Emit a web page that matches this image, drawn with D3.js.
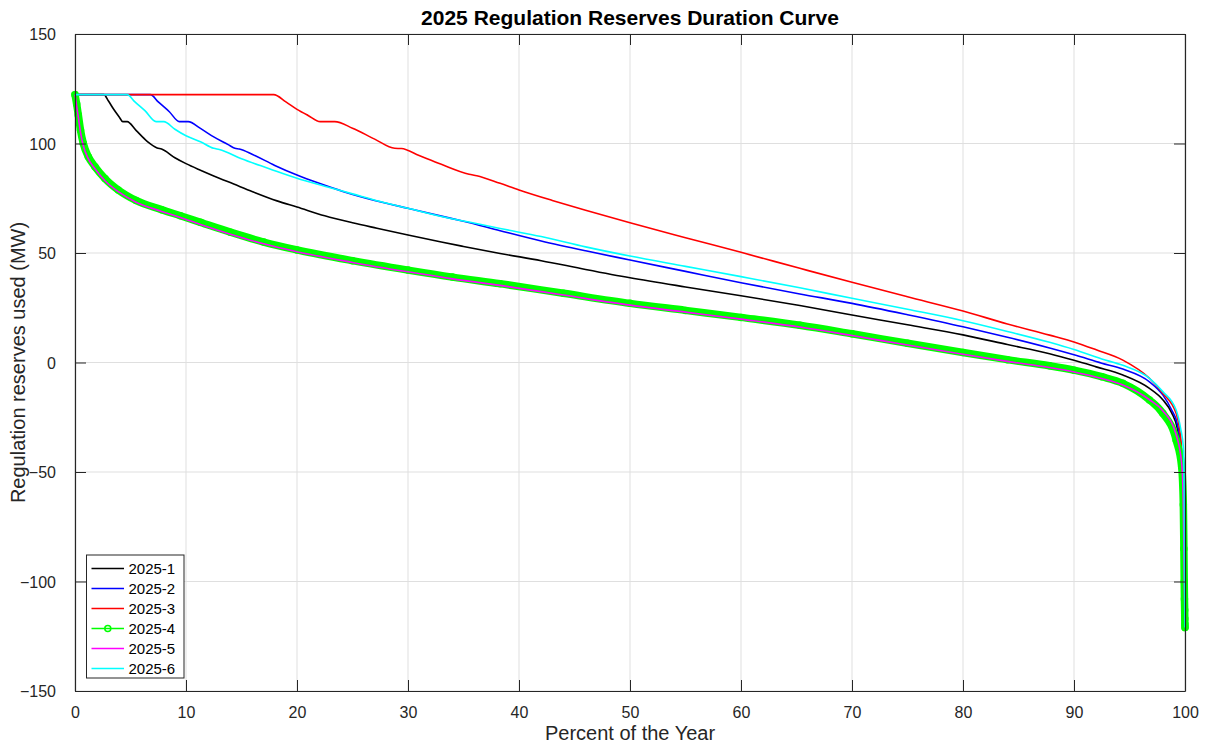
<!DOCTYPE html>
<html>
<head>
<meta charset="utf-8">
<script src="https://cdn.jsdelivr.net/npm/d3@7"></script>
<style>
body { margin:0; background:#fff; }
text { font-family: "Liberation Sans", Arial, Helvetica, sans-serif; fill:#262626; }
</style>
</head>
<body>
<div id="chart"></div>
<script>
var w = 1208;
var h = 743;

var xTicks = [0,10,20,30,40,50,60,70,80,90,100];
var yTicks = [-150,-100,-50,0,50,100,150];

var names = ["2025-1","2025-2","2025-3","2025-4","2025-5","2025-6"];
var colors = ["#000000","#0000ff","#ff0000","#00ff00","#ff00ff","#00ffff"];

// [percent of year, MW]
var s1 = [[0,122.3],[2.6,122.3],[3.0,119.5],[3.5,115.5],[4.0,112],[4.3,110],[4.7,110],[5.5,106],[6.5,101],[7.4,98],[7.8,97.5],[9,93.5],[10,90.8],[11.3,87.8],[12.5,85.2],[14.3,81.5],[16,78],[18.2,73.8],[20,71],[22.5,67],[25,63.8],[27.2,61.3],[30,58.2],[33,55],[35,53],[38.3,49.8],[42,46.5],[46,42.5],[50,38.7],[55,34.5],[60,30.5],[65.3,26],[70,21.7],[75,17.2],[80,12.6],[84,8.2],[87.8,4.0],[90,1.0],[92,-2.0],[94.4,-5.7],[96.8,-11.8],[98,-17],[98.8,-23],[99.3,-30],[99.6,-40],[99.8,-60],[99.9,-90],[100,-115]];

var s2 = [[0,122.3],[6.8,122.3],[7.5,119],[8.5,114.5],[9.4,110],[10.2,110],[11.3,106.9],[12.5,103],[13.8,99.5],[14.4,97.8],[14.8,97.5],[16,95],[18,90],[20,85.6],[22,81.8],[24.2,78],[27,74],[30,70.4],[33.2,66.6],[35,64.5],[38.3,60.2],[42,55.5],[46,51],[50,46.8],[55,41.6],[60,36.4],[65.3,31.3],[70,27],[75,21.8],[80,16.3],[84,11.5],[87.8,6.6],[90,3.5],[92.5,-0.3],[94.4,-3.0],[96.8,-8.8],[98,-14.8],[98.8,-21.7],[99.3,-28],[99.6,-38],[99.8,-55],[99.9,-85],[100,-112]];

var s3 = [[0,122.3],[17.9,122.3],[19,119],[20,115.6],[21,112.8],[22.1,110],[23.4,110],[25,107],[27,102],[28.8,97.8],[29.4,97.7],[31,94.5],[33,90.5],[35.5,86],[36.2,85.3],[38.3,81.8],[40,78.8],[43,74],[46,69.5],[50,63.8],[55,57],[60,50.3],[65.3,43],[70,36.6],[75,30],[80,23.5],[84,17.6],[87.8,12.5],[90,9.4],[92,5.8],[94.4,1.1],[96.8,-7.2],[98,-14],[99.2,-23.2],[99.5,-30],[99.7,-40],[99.85,-60],[99.95,-90],[100,-110]];

var s4 = [[0,122.3],[0.15,118],[0.3,113],[0.5,106],[0.75,100],[1.2,94],[1.8,89.4],[2.7,84],[3.9,78.8],[5.5,74],[7.8,69.8],[9.5,67],[11.3,64],[14,59.5],[17,55],[20,51.4],[25,46.5],[30,42.2],[34,39],[38.3,36],[44,31.6],[50,27],[55,23.8],[60,20.6],[65.3,17],[70,13.1],[75,8.8],[80,4.6],[84,1.3],[87.8,-1.5],[90,-3.5],[92.5,-6.5],[94.4,-9.5],[96.8,-17.1],[98,-23.2],[99.2,-35.4],[99.7,-47.6],[99.85,-65],[99.9,-85],[99.93,-100],[99.95,-108],[99.97,-113],[99.98,-117],[99.99,-119.5],[100,-121]];

var s5 = [[0,122.3],[0.15,117],[0.3,112],[0.5,105],[0.75,99],[1.2,93],[1.8,88.5],[2.7,83],[3.9,78],[5.5,73.2],[7.8,69],[9.5,66.2],[11.3,63],[14,58.6],[17,54.2],[20,50.6],[25,45.7],[30,41.4],[34,38.2],[38.3,35.2],[44,30.8],[50,26.2],[55,23],[60,19.8],[65.3,16.2],[70,12.3],[75,8],[80,3.8],[84,0.5],[87.8,-2.3],[90,-4.3],[92.5,-7.3],[94.4,-10.3],[96.8,-17],[98,-22],[99.2,-33],[99.7,-46],[99.85,-65],[99.9,-85],[99.95,-105],[100,-118]];

var s6 = [[0,122.3],[4.7,122.3],[5.4,119],[6.3,115],[7.3,110],[8,110],[9,106.5],[10,103.5],[11.3,100.8],[12.5,97.8],[13,97.3],[15,93],[17.5,88.5],[20,84.1],[22.5,80.5],[25,77],[27.5,73.5],[30,70.4],[33,66.7],[35.6,64],[38.3,61.2],[42,57.5],[46,52.8],[50,48.6],[55,43.9],[60,39.2],[65.3,34.1],[70,29.3],[75,24.3],[80,19.1],[84,14.2],[87.8,9.2],[90,5.9],[92.5,1.6],[94.4,-1.3],[96.8,-7.2],[98,-13.3],[99.2,-21.7],[99.6,-30],[99.85,-38.6],[99.93,-60],[99.96,-90],[100,-121]];

var series = [s1,s2,s3,s4,s5,s6];

var mLeft = 75, mRight = 1185, mTop = 34, mBottom = 691;

var x = d3.scaleLinear().domain([0,100]).range([mLeft,mRight]);
var y = d3.scaleLinear().domain([-150,150]).range([mBottom,mTop]);

var svg = d3.select("#chart").append("svg")
    .attr("width", w)
    .attr("height", h);

svg.append("rect").attr("x",0).attr("y",0).attr("width",w).attr("height",h).attr("fill","#fff");

// grid
svg.append("g").selectAll("line").data(xTicks).enter().append("line")
    .attr("x1", function(d){return x(d);}).attr("x2", function(d){return x(d);})
    .attr("y1", mTop).attr("y2", mBottom)
    .attr("stroke", "#dfdfdf").attr("stroke-width", 1);
svg.append("g").selectAll("line").data(yTicks).enter().append("line")
    .attr("x1", mLeft).attr("x2", mRight)
    .attr("y1", function(d){return y(d);}).attr("y2", function(d){return y(d);})
    .attr("stroke", "#dfdfdf").attr("stroke-width", 1);

var line = d3.line()
    .x(function(d){return x(d[0]);})
    .y(function(d){return y(d[1]);})
    .curve(d3.curveMonotoneX);

var plot = svg.append("g");

series.forEach(function(s, i){
    if (i == 3) {
        // dense markers in the original make a solid band
        plot.append("path").datum(s).attr("d", line)
            .attr("fill","none").attr("stroke", colors[i])
            .attr("stroke-width", 7.5).attr("stroke-linejoin","round").attr("stroke-linecap","round");
        plot.append("g").selectAll("circle").data(s).enter().append("circle")
            .attr("cx", function(d){return x(d[0]);})
            .attr("cy", function(d){return y(d[1]);})
            .attr("r", 3)
            .attr("fill", "none").attr("stroke", colors[i]).attr("stroke-width", 1.5);
    }
    plot.append("path").datum(s).attr("d", line)
        .attr("fill","none").attr("stroke", colors[i])
        .attr("stroke-width", 1.6).attr("stroke-linejoin","round");
});

// axes box with inward ticks
var axCol = "#262626";
var xAxis = d3.axisBottom(x).tickValues(xTicks).tickSizeInner(-11).tickSizeOuter(0).tickPadding(16);
var yAxis = d3.axisLeft(y).tickValues(yTicks).tickSizeInner(-11).tickSizeOuter(0).tickPadding(19);

var gx = svg.append("g").attr("transform","translate(0,"+mBottom+")").call(xAxis);
var gy = svg.append("g").attr("transform","translate("+mLeft+",0)").call(yAxis);
var gx2 = svg.append("g").attr("transform","translate(0,"+mTop+")")
    .call(d3.axisTop(x).tickValues(xTicks).tickSizeInner(-11).tickSizeOuter(0).tickFormat(""));
var gy2 = svg.append("g").attr("transform","translate("+mRight+",0)")
    .call(d3.axisRight(y).tickValues(yTicks).tickSizeInner(-11).tickSizeOuter(0).tickFormat(""));

[gx,gy,gx2,gy2].forEach(function(g){
    g.select(".domain").attr("stroke", axCol).attr("stroke-width", 1.2);
    g.selectAll(".tick line").attr("stroke", axCol).attr("stroke-width", 1);
    g.selectAll(".tick text").attr("fill", axCol).style("font-size","16px")
        .style("font-family","'Liberation Sans', Arial, Helvetica, sans-serif");
});
gx.selectAll(".tick text").attr("dy", "0.71em");
gy.selectAll(".tick text").attr("dy", "0.35em");

// title and labels
svg.append("text").attr("x", (mLeft+mRight)/2).attr("y", 25)
    .attr("text-anchor","middle").style("font-size","21px").style("font-weight","bold")
    .style("fill","#000").text("2025 Regulation Reserves Duration Curve");
svg.append("text").attr("x", (mLeft+mRight)/2).attr("y", 740)
    .attr("text-anchor","middle").style("font-size","20px")
    .text("Percent of the Year");
svg.append("text").attr("transform","translate(25,"+((mTop+mBottom)/2)+") rotate(-90)")
    .attr("text-anchor","middle").style("font-size","20px")
    .text("Regulation reserves used (MW)");

// legend
var lg = svg.append("g").attr("transform","translate(86.5,555)");
lg.append("rect").attr("x",0).attr("y",0).attr("width",97.5).attr("height",123)
    .attr("fill","#fff").attr("stroke", axCol).attr("stroke-width",1);
names.forEach(function(n, i){
    var yy = 13.5 + i*20;
    lg.append("line").attr("x1",5).attr("x2",37.5).attr("y1",yy).attr("y2",yy)
        .attr("stroke", colors[i]).attr("stroke-width",1.6);
    if (i == 3) {
        lg.append("circle").attr("cx",21.3).attr("cy",yy).attr("r",3)
            .attr("fill","none").attr("stroke",colors[i]).attr("stroke-width",1.5);
    }
    lg.append("text").attr("x",42).attr("y",yy).attr("dy","0.35em")
        .style("font-size","15px").style("fill","#000").text(n);
});
</script>
</body>
</html>
